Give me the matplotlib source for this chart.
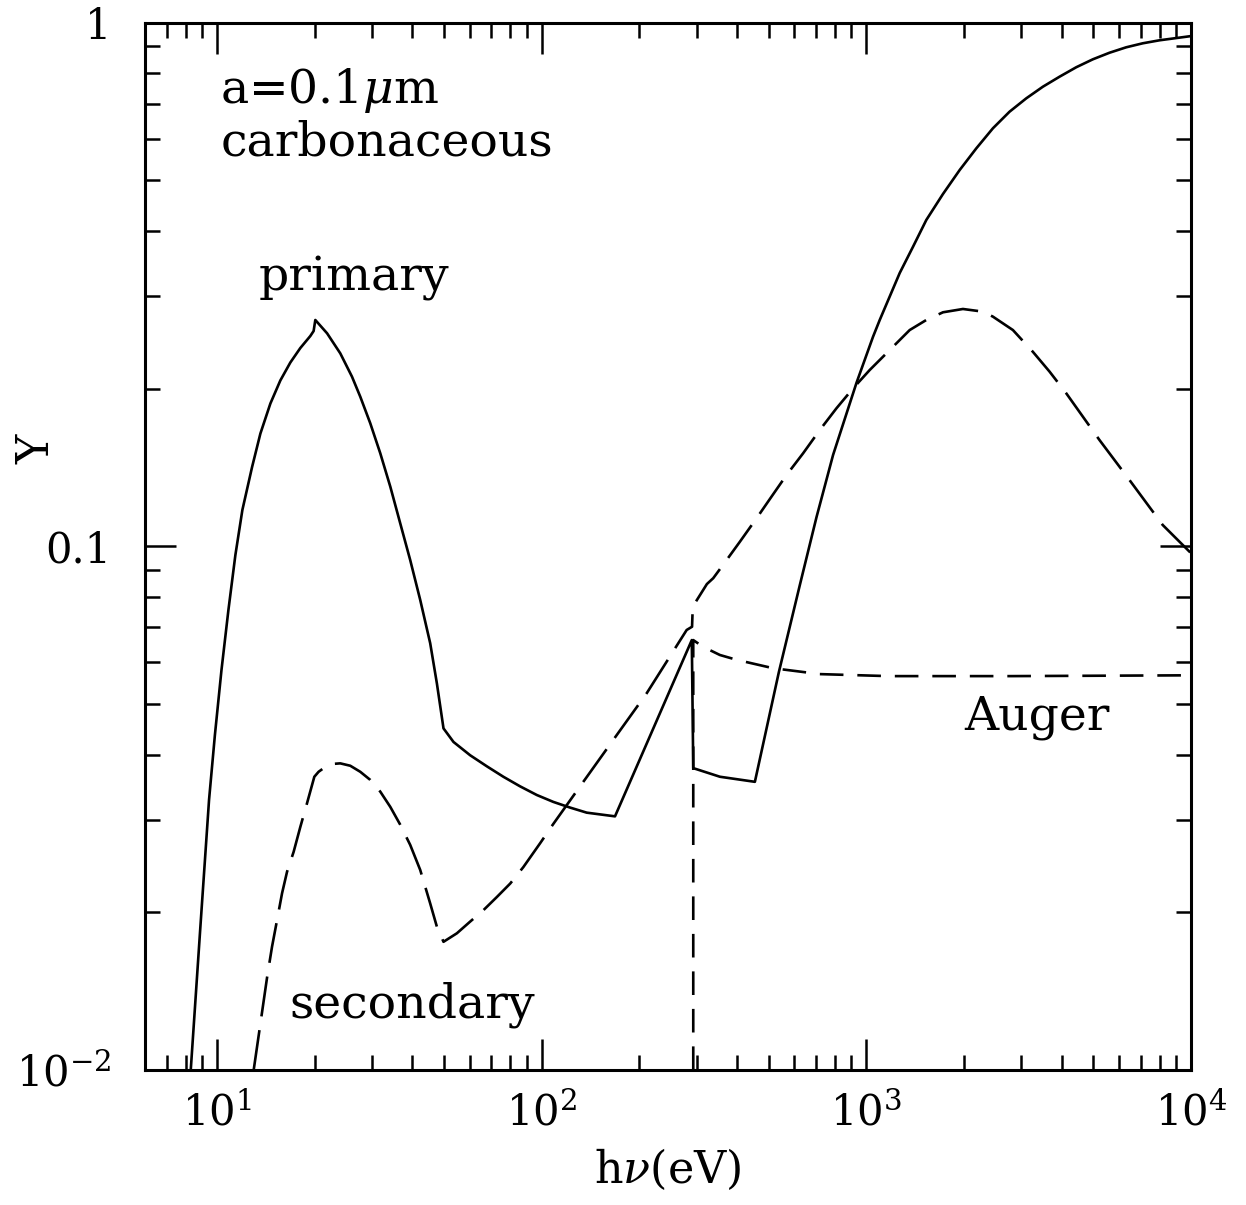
import matplotlib
matplotlib.use('Agg')
import matplotlib.pyplot as plt
from matplotlib.ticker import FixedLocator, FixedFormatter, LogLocator, NullFormatter

plt.rcParams['font.family'] = 'DejaVu Serif'
plt.rcParams['mathtext.fontset'] = 'dejavuserif'
plt.rcParams['lines.scale_dashes'] = False

# ---- data ----
primary_x = [8.3, 8.86, 9.45, 9.85, 10.32, 10.84, 11.39, 11.97, 12.82, 13.60, 14.60, 15.67,
             16.82, 18.05, 19.38, 19.84, 20.08, 21.83, 23.97, 26.04, 27.62, 29.65, 31.83,
             34.17, 36.67, 39.36, 42.25, 45.35, 47.56, 49.84, 53.5, 60.2, 67.8, 76.2, 85.8,
             96.6, 108.6, 122.3, 137.6, 168.2, 290.0, 293.0, 354.0, 453.6, 537.7, 623.9,
             702.4, 789.9, 932.2, 1048.6, 1099.6, 1267, 1392, 1530, 1722, 1939, 2182, 2454,
             2762, 3109, 3498, 3937, 4431, 4983, 5610, 6316, 7100, 7994, 10000]
primary_y = [0.0100, 0.01826, 0.0328, 0.0436, 0.0580, 0.0755, 0.0962, 0.1173, 0.1416, 0.1641,
             0.1873, 0.2073, 0.2243, 0.2390, 0.2520, 0.2576, 0.2704, 0.2550, 0.2335, 0.2108,
             0.1930, 0.1717, 0.1505, 0.1300, 0.1106, 0.0941, 0.0790, 0.0653, 0.0547, 0.0449,
             0.0423, 0.0399, 0.0380, 0.0363, 0.0348, 0.0335, 0.0325, 0.0317, 0.0310, 0.0305,
             0.0662, 0.0377, 0.0363, 0.0355, 0.0575, 0.0843, 0.1137, 0.1494, 0.205, 0.2512,
             0.2704, 0.3324, 0.373, 0.4197, 0.4705, 0.5229, 0.5752, 0.6281, 0.6757, 0.7165,
             0.7541, 0.7880, 0.8214, 0.8505, 0.8755, 0.8967, 0.9126, 0.9247, 0.942]

secondary_x = [12.97, 14.27, 14.77, 15.31, 15.86, 16.43, 17.22, 18.05, 18.93, 19.94, 20.55,
               21.30, 22.60, 23.97, 25.73, 27.62, 29.65, 31.83, 34.17, 36.67, 39.36, 42.25,
               45.35, 47.56, 49.84, 54.8, 60.2, 66.2, 72.8, 80.0, 87.8, 98.9, 108.6, 131.3,
               166.2, 210.6, 279.6, 290.5, 292.0, 322.8, 337.6, 371.1, 407.8, 459.1, 510.5,
               567.9, 638.7, 718.9, 809, 910.2, 1024, 1180, 1360, 1530, 1722, 1984, 2286,
               2454, 2828, 3258, 3667, 4128, 5226, 6465, 8182, 10000]
secondary_y = [0.0100, 0.01506, 0.01719, 0.01934, 0.02175, 0.0239, 0.0261, 0.0291, 0.0323,
               0.0363, 0.0371, 0.0377, 0.0384, 0.0385, 0.0381, 0.0371, 0.0358, 0.0340, 0.0318,
               0.0294, 0.0269, 0.0241, 0.0208, 0.01877, 0.01757, 0.01824, 0.0192, 0.0202,
               0.0214, 0.0227, 0.0244, 0.0271, 0.0295, 0.0348, 0.0427, 0.0524, 0.0692, 0.0702,
               0.0767, 0.0847, 0.0869, 0.0941, 0.102, 0.1131, 0.1244, 0.1368, 0.1505, 0.1667,
               0.1834, 0.2002, 0.217, 0.2369, 0.2587, 0.2704, 0.2797, 0.2838, 0.2805, 0.2744,
               0.2587, 0.2351, 0.2155, 0.1959, 0.1595, 0.1338, 0.1098, 0.0970]

auger_x = [293, 293, 313.7, 353.9, 398.4, 516, 719, 1167, 2802, 10000]
auger_y = [0.0100, 0.0662, 0.0643, 0.0620, 0.0607, 0.0585, 0.0570, 0.0565, 0.0565, 0.0567]

x_ticks = [10, 100, 1000, 10000]
x_tick_labels = [r'$10^{1}$', r'$10^{2}$', r'$10^{3}$', r'$10^{4}$']
y_ticks = [0.01, 0.1, 1]
y_tick_labels = [r'$10^{-2}$', '0.1', '1']

# ---- figure ----
W, H = 1246, 1205
fig = plt.figure(figsize=(W / 100, H / 100), dpi=100)
ax = fig.add_axes([145 / W, 1 - 1070 / H, (1191 - 145) / W, (1070 - 22.5) / H])
ax.set_xscale('log')
ax.set_yscale('log')
ax.set_xlim(6, 1e4)
ax.set_ylim(0.01, 1)

lw = 1.9
ax.plot(primary_x, primary_y, color='black', lw=lw)
ax.plot(secondary_x, secondary_y, color='black', lw=lw, linestyle=(0, (29, 10)))
ax.plot(auger_x, auger_y, color='black', lw=lw, linestyle=(0, (17, 10)))

# ticks
ax.xaxis.set_major_locator(FixedLocator(x_ticks))
ax.xaxis.set_major_formatter(FixedFormatter(x_tick_labels))
ax.yaxis.set_major_locator(FixedLocator(y_ticks))
ax.yaxis.set_major_formatter(FixedFormatter(y_tick_labels))
ax.xaxis.set_minor_locator(LogLocator(base=10, subs=range(2, 10), numticks=20))
ax.yaxis.set_minor_locator(LogLocator(base=10, subs=range(2, 10), numticks=20))
ax.xaxis.set_minor_formatter(NullFormatter())
ax.yaxis.set_minor_formatter(NullFormatter())

ax.tick_params(which='both', direction='in', top=True, right=True,
               labeltop=False, labelright=False, color='black')
ax.tick_params(which='major', length=22, width=1.8, labelsize=30)
ax.tick_params(which='minor', length=11, width=1.8)
ax.tick_params(axis='y', which='major', pad=24)
ax.tick_params(axis='x', which='major', pad=16)

for s in ax.spines.values():
    s.set_linewidth(2.2)

ax.set_xlabel(r'h$\nu$(eV)', fontsize=32, labelpad=9)
ax.set_ylabel('Y', fontsize=32)
ax.yaxis.set_label_coords(-0.083, 0.593)

# annotations
fs = 34
ax.text(10.24, 0.702, r'a=0.1$\mu$m', fontsize=fs, ha='left', va='baseline')
ax.text(10.24, 0.558, 'carbonaceous', fontsize=fs, ha='left', va='baseline')
ax.text(26.47, 0.3085, 'primary', fontsize=fs, ha='center', va='baseline')
ax.text(39.93, 0.01257, 'secondary', fontsize=fs, ha='center', va='baseline')
ax.text(3344, 0.04459, 'Auger', fontsize=fs, ha='center', va='baseline')

fig.savefig('out.png', dpi=100)
